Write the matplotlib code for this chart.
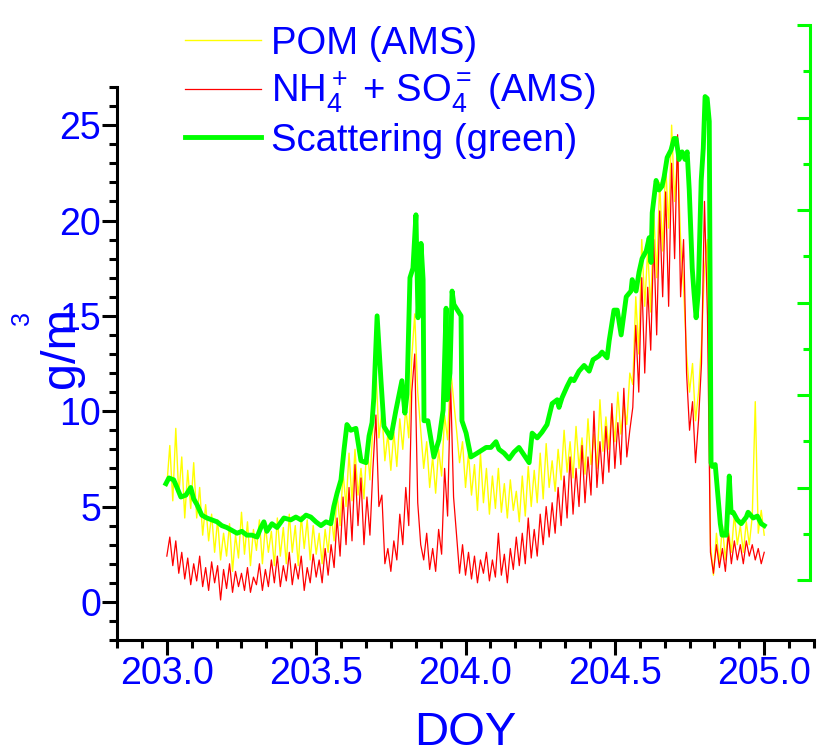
import matplotlib
matplotlib.use("Agg")
import matplotlib.pyplot as plt
from matplotlib.ticker import MultipleLocator

plt.rcParams['font.family'] = ['Liberation Sans', 'DejaVu Sans']
plt.rcParams['mathtext.fontset'] = 'custom'
plt.rcParams['mathtext.rm'] = 'Liberation Sans'
plt.rcParams['mathtext.it'] = 'Liberation Sans:italic'
plt.rcParams['mathtext.bf'] = 'Liberation Sans:bold'

# AMS time base (DOY)
ams_doy = [
    203.00, 203.01, 203.02, 203.03, 203.04, 203.05, 203.06, 203.07, 203.08, 203.09,
    203.10, 203.11, 203.12, 203.13, 203.14, 203.15, 203.16, 203.17, 203.18, 203.19,
    203.20, 203.21, 203.22, 203.23, 203.24, 203.25, 203.26, 203.27, 203.28, 203.29,
    203.30, 203.31, 203.32, 203.33, 203.34, 203.35, 203.36, 203.37, 203.38, 203.39,
    203.40, 203.41, 203.42, 203.43, 203.44, 203.45, 203.46, 203.47, 203.48, 203.49,
    203.50, 203.51, 203.52, 203.53, 203.54, 203.55, 203.56, 203.57, 203.58, 203.59,
    203.60, 203.61, 203.62, 203.63, 203.64, 203.65, 203.66, 203.67, 203.68, 203.69,
    203.70, 203.71, 203.72, 203.73, 203.74, 203.75, 203.76, 203.77, 203.78, 203.79,
    203.80, 203.81, 203.82, 203.83, 203.84, 203.85, 203.86, 203.87, 203.88, 203.89,
    203.90, 203.91, 203.92, 203.93, 203.94, 203.95, 203.96, 203.97, 203.98, 203.99,
    204.00, 204.01, 204.02, 204.03, 204.04, 204.05, 204.06, 204.07, 204.08, 204.09,
    204.10, 204.11, 204.12, 204.13, 204.14, 204.15, 204.16, 204.17, 204.18, 204.19,
    204.20, 204.21, 204.22, 204.23, 204.24, 204.25, 204.26, 204.27, 204.28, 204.29,
    204.30, 204.31, 204.32, 204.33, 204.34, 204.35, 204.36, 204.37, 204.38, 204.39,
    204.40, 204.41, 204.42, 204.43, 204.44, 204.45, 204.46, 204.47, 204.48, 204.49,
    204.50, 204.51, 204.52, 204.53, 204.54, 204.55, 204.56, 204.57, 204.58, 204.59,
    204.60, 204.61, 204.62, 204.63, 204.64, 204.65, 204.66, 204.67, 204.68, 204.69,
    204.70, 204.71, 204.72, 204.73, 204.74, 204.75, 204.76, 204.77, 204.78, 204.79,
    204.80, 204.81, 204.82, 204.83, 204.84, 204.85, 204.86, 204.87, 204.88, 204.89,
    204.90, 204.91, 204.92, 204.93, 204.94, 204.95, 204.96, 204.97, 204.98, 204.99,
    205.00,
]

# POM (AMS), ug/m3
pom = [
    6.1, 8.2, 5.3, 9.1, 5.6, 7.6, 4.4, 6.9, 4.9, 7.3,
    4.4, 6.0, 3.5, 5.1, 3.2, 4.6, 2.6, 4.3, 2.2, 3.6,
    2.4, 4.1, 1.6, 3.5, 2.3, 4.7, 2.5, 4.2, 1.9, 3.8,
    2.7, 4.3, 2.0, 4.0, 2.6, 3.7, 1.9, 4.4, 2.4, 3.9,
    2.0, 4.6, 2.6, 4.0, 1.9, 4.5, 2.8, 4.3, 2.2, 4.0,
    2.5, 3.6, 2.0, 3.8, 2.6, 4.6, 3.2, 5.7, 4.0, 6.8,
    5.0, 7.8, 5.3, 8.0, 5.6, 7.0, 5.4, 8.4, 6.4, 9.2,
    12.3, 8.6, 10.0, 7.4, 8.8, 6.9, 8.9, 7.1, 9.6, 8.0,
    10.2, 8.6, 12.8, 15.1, 11.0, 9.0, 7.0, 8.4, 6.0, 7.6,
    5.7, 8.0, 6.6, 9.8, 8.5, 12.3, 10.6, 9.0, 7.3, 8.4,
    6.0, 7.8, 5.6, 7.2, 4.8, 7.8, 5.2, 7.0, 4.6, 6.6,
    4.9, 7.0, 4.7, 6.2, 4.4, 6.4, 4.8, 5.8, 4.2, 6.6,
    4.5, 7.1, 5.0, 6.9, 5.2, 7.8, 5.4, 8.3, 6.0, 7.4,
    5.8, 8.0, 6.4, 9.0, 6.8, 8.4, 6.5, 9.2, 7.0, 8.6,
    6.7, 9.6, 7.2, 8.8, 7.0, 10.6, 7.9, 9.7, 8.0, 10.2,
    8.4, 11.0, 8.8, 10.4, 9.3, 12.0, 11.4, 16.0, 13.0, 19.0,
    15.5, 18.5, 15.2, 20.5, 17.0, 22.0, 18.4, 23.0, 19.6, 25.0,
    21.0, 23.5, 19.0, 16.5, 13.0, 11.0, 12.5, 9.5, 11.0, 13.5,
    17.5, 19.0, 3.0, 1.4, 3.6, 2.0, 4.0, 2.2, 3.8, 2.6,
    4.6, 3.0, 4.0, 2.6, 4.2, 3.0, 4.5, 10.5, 3.6, 4.8,
    3.5,
]

# NH4+ + SO4= (AMS), ug/m3
nh4_so4 = [
    2.4, 3.4, 1.9, 3.2, 1.5, 2.6, 1.2, 2.3, 0.9, 2.0,
    1.1, 2.4, 0.8, 1.8, 0.6, 2.1, 1.0, 1.9, 0.1, 1.7,
    0.7, 2.0, 0.5, 1.6, 0.8, 1.5, 0.6, 1.8, 0.5, 1.3,
    0.9, 2.0, 0.6, 1.7, 0.8, 2.2, 1.0, 2.4, 0.8, 1.9,
    1.1, 2.6, 0.9, 2.0, 1.2, 2.4, 0.6, 1.8, 1.0, 2.5,
    1.3, 2.2, 1.0, 2.8, 1.4, 3.0, 1.8, 4.4, 2.4, 5.5,
    3.0, 6.0, 3.2, 7.2, 4.0, 6.5, 3.0, 5.5, 3.5, 7.0,
    9.8, 5.0, 5.6, 2.0, 2.8, 1.6, 3.2, 2.2, 4.6, 3.0,
    6.0, 4.0, 11.0, 13.0, 5.2, 3.0, 2.2, 3.6, 1.7, 2.8,
    1.6, 3.8, 2.5, 7.0, 4.5, 11.5, 5.5, 3.5, 1.5, 3.0,
    1.4, 2.6, 1.2, 2.4, 1.0, 2.2, 1.5, 2.6, 1.1, 2.2,
    1.3, 3.6, 1.4, 2.5, 1.0, 2.8, 1.7, 3.4, 1.9, 3.6,
    2.0, 4.4, 2.3, 3.8, 2.4, 4.6, 3.0, 5.0, 3.4, 5.2,
    3.6, 6.0, 4.0, 6.6, 4.4, 7.6, 4.6, 7.0, 5.0, 8.2,
    5.2, 7.6, 5.6, 10.0, 6.0, 8.4, 6.2, 9.2, 6.8, 10.4,
    7.0, 9.4, 7.2, 11.2, 7.6, 9.0, 10.2, 14.5, 11.0, 17.0,
    12.0, 16.5, 13.2, 19.0, 14.0, 20.5, 16.0, 21.5, 15.5, 23.0,
    18.0, 24.5, 16.0, 19.0, 12.0, 9.0, 10.5, 7.3, 9.5, 12.5,
    21.0, 15.0, 2.6, 1.5, 3.0, 1.8, 2.8, 1.6, 3.6, 2.0,
    3.2, 2.2, 3.0, 2.0, 3.2, 2.4, 3.0, 2.2, 2.8, 2.0,
    2.6,
]

# Scattering (green), drawn in left-axis units
scat_doy = [
    202.997, 203.007, 203.023, 203.034, 203.047, 203.064, 203.080, 203.090, 203.101, 203.117,
    203.134, 203.151, 203.168, 203.184, 203.201, 203.218, 203.235, 203.251, 203.268, 203.285,
    203.302, 203.315, 203.325, 203.335, 203.352, 203.369, 203.392, 203.415, 203.432, 203.449,
    203.466, 203.482, 203.499, 203.516, 203.533, 203.549, 203.559, 203.570, 203.583, 203.593,
    203.603, 203.616, 203.633, 203.650, 203.667, 203.677, 203.687, 203.693, 203.704, 203.717,
    203.727, 203.750, 203.767, 203.787, 203.797, 203.804, 203.814, 203.824, 203.834, 203.841,
    203.851, 203.858, 203.861, 203.874, 203.894, 203.911, 203.925, 203.935, 203.938, 203.948,
    203.955, 203.961, 203.985, 203.988, 204.002, 204.018, 204.039, 204.069, 204.085, 204.102,
    204.112, 204.129, 204.146, 204.162, 204.179, 204.196, 204.213, 204.223, 204.240, 204.256,
    204.273, 204.290, 204.307, 204.313, 204.323, 204.340, 204.353, 204.363, 204.380, 204.397,
    204.414, 204.427, 204.447, 204.457, 204.474, 204.481, 204.497, 204.508, 204.521, 204.538,
    204.554, 204.558, 204.571, 204.581, 204.591, 204.605, 204.615, 204.621, 204.625, 204.638,
    204.648, 204.658, 204.665, 204.675, 204.688, 204.698, 204.705, 204.715, 204.725, 204.735,
    204.742, 204.749, 204.759, 204.765, 204.772, 204.779, 204.789, 204.796, 204.802, 204.809,
    204.816, 204.822, 204.826, 204.836, 204.843, 204.853, 204.859, 204.873, 204.883, 204.889,
    204.896, 204.910, 204.923, 204.940, 204.946, 204.963, 204.977, 204.990, 205.000,
]
scat = [
    6.2, 6.5, 6.4, 6.0, 5.5, 5.6, 6.0, 5.4, 5.1, 4.55,
    4.4, 4.3, 4.2, 4.0, 3.9, 3.75, 3.6, 3.7, 3.5, 3.5,
    3.4, 3.9, 4.2, 3.7, 4.1, 3.9, 4.4, 4.3, 4.45, 4.3,
    4.55, 4.45, 4.2, 4.0, 4.2, 4.1, 5.0, 5.7, 6.4, 7.95,
    9.3, 9.0, 9.1, 7.4, 7.3, 8.7, 9.4, 10.7, 15.0, 11.6,
    9.2, 8.6, 10.05, 11.6, 9.9, 10.9, 17.0, 17.5, 20.3, 14.9,
    18.8, 16.9, 9.5, 9.5, 7.6, 8.5, 10.05, 15.4, 10.6, 12.0,
    16.3, 15.6, 15.0, 9.5, 8.85, 7.6, 7.8, 8.1, 8.1, 8.4,
    8.0, 7.8, 7.5, 7.85, 8.1, 7.7, 7.3, 8.85, 8.6, 8.9,
    9.3, 10.4, 10.6, 10.2, 10.7, 11.3, 11.7, 11.6, 12.1, 12.4,
    12.1, 12.7, 12.9, 13.1, 12.8, 13.7, 15.3, 15.3, 14.0, 16.0,
    16.3, 16.9, 16.3, 17.3, 18.0, 18.4, 19.1, 17.8, 20.4, 22.1,
    21.6, 21.8, 22.3, 23.3, 23.7, 24.3, 24.3, 23.2, 23.6, 23.2,
    23.6, 21.6, 17.5, 16.2, 14.9, 16.2, 22.1, 23.8, 26.5, 26.4,
    25.2, 7.3, 7.1, 7.2, 5.9, 4.1, 3.5, 3.5, 6.6, 4.7,
    4.7, 4.3, 4.1, 4.45, 4.7, 4.4, 4.5, 4.1, 4.0,
]

blue = '#0000FF'
green = '#00FF00'

fig = plt.figure(figsize=(8.19, 7.56), dpi=100)
ax = fig.add_axes([0.1429, 0.1534, 0.851, 0.7315])

l1, = ax.plot(ams_doy, pom, color='#FFFF00', lw=1.0)
l2, = ax.plot(ams_doy, nh4_so4, color='#FF0000', lw=0.9)
l3, = ax.plot(scat_doy, scat, color=green, lw=3.5)

ax.set_xlim(203 - 2 / 12, 205 + 2 / 12)
ax.set_ylim(-2, 27)
ax.xaxis.set_major_locator(MultipleLocator(0.5))
ax.xaxis.set_minor_locator(MultipleLocator(1 / 12))
ax.yaxis.set_major_locator(MultipleLocator(5))
ax.yaxis.set_minor_locator(MultipleLocator(1))
ax.xaxis.set_major_formatter(matplotlib.ticker.FormatStrFormatter('%.1f'))

for s in ['top', 'right']:
    ax.spines[s].set_visible(False)
for s in ['left', 'bottom']:
    ax.spines[s].set_linewidth(2.2)
ax.tick_params(which='major', length=10.5, width=2.2, labelsize=27, labelcolor=blue, pad=1)
ax.tick_params(which='minor', length=5.5, width=2.2)

ax.set_xlabel('DOY', fontsize=34, color=blue, labelpad=14)
fig.text(0.075, 0.54, 'g/m', rotation=90, fontsize=35, color=blue, ha='center', va='center')
fig.text(0.027, 0.58, '3', rotation=90, fontsize=18, color=blue, ha='center', va='center')

# right-hand scattering axis (no labels)
ax2 = fig.add_axes([0.1429, 0.2328, 0.8462, 0.7341])
ax2.patch.set_visible(False)
for s in ['top', 'left', 'bottom']:
    ax2.spines[s].set_visible(False)
ax2.spines['right'].set_color(green)
ax2.spines['right'].set_linewidth(2.2)
ax2.set_ylim(0, 6)
ax2.set_xticks([])
ax2.yaxis.tick_right()
ax2.yaxis.set_major_locator(MultipleLocator(1))
ax2.yaxis.set_minor_locator(MultipleLocator(0.5))
ax2.tick_params(axis='y', which='both', direction='in', colors=green, labelright=False, width=2.2)
ax2.tick_params(axis='y', which='major', length=9.5)
ax2.tick_params(axis='y', which='minor', length=5)

leg = fig.legend([l1, l2, l3],
                 ['POM (AMS)', 'NH$_4^+$ + SO$_4^=$ (AMS)', 'Scattering (green)'],
                 loc='upper left', bbox_to_anchor=(0.226, 0.966), frameon=False,
                 fontsize=27.5, handlelength=2.0, handletextpad=0.26,
                 labelspacing=0.2, borderpad=0, borderaxespad=0)
for t in leg.get_texts():
    t.set_color(blue)

fig.savefig('out.png', dpi=100)
